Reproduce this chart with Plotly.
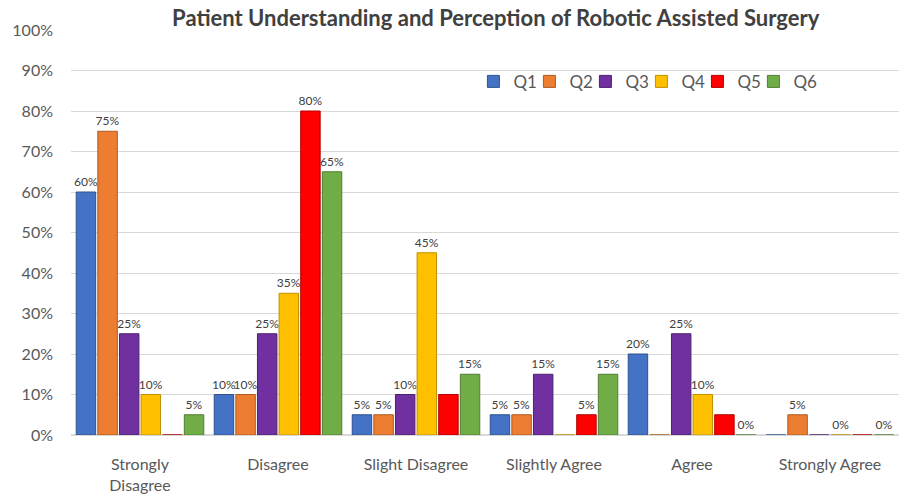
import plotly.graph_objects as go

categories = ["Strongly<br>Disagree", "Disagree", "Slight Disagree", "Slightly Agree", "Agree", "Strongly Agree"]
series_names = ["Q1", "Q2", "Q3", "Q4", "Q5", "Q6"]
q1 = [0.60, 0.10, 0.05, 0.05, 0.20, 0.00]
q2 = [0.75, 0.10, 0.05, 0.05, 0.00, 0.05]
q3 = [0.25, 0.25, 0.10, 0.15, 0.25, 0.00]
q4 = [0.10, 0.35, 0.45, 0.00, 0.10, 0.00]
q5 = [0.00, 0.80, 0.10, 0.05, 0.05, 0.00]
q6 = [0.05, 0.65, 0.15, 0.15, 0.00, 0.00]
labels_q1 = ["60%", "10%", "5%", "5%", "20%", ""]
labels_q2 = ["75%", "10%", "5%", "5%", "", "5%"]
labels_q3 = ["25%", "25%", "10%", "15%", "25%", ""]
labels_q4 = ["10%", "35%", "45%", "", "10%", "0%"]
labels_q5 = ["", "80%", "", "5%", "", ""]
labels_q6 = ["5%", "65%", "15%", "15%", "0%", "0%"]
y_ticks = [0, 0.1, 0.2, 0.3, 0.4, 0.5, 0.6, 0.7, 0.8, 0.9, 1.0]
y_tick_text = ["0%", "10%", "20%", "30%", "40%", "50%", "60%", "70%", "80%", "90%", "100%"]

values = [q1, q2, q3, q4, q5, q6]
labels = [labels_q1, labels_q2, labels_q3, labels_q4, labels_q5, labels_q6]
colors = ["#4472C4", "#ED7D31", "#7030A0", "#FFC000", "#FF0000", "#70AD47"]
edges = ["#2F528F", "#AE5A21", "#4B2070", "#BF9000", "#B00000", "#507E32"]

fig = go.Figure()
for name, vals, txt, col, edge in zip(series_names, values, labels, colors, edges):
    fig.add_trace(go.Bar(
        name=name, x=categories, y=vals, text=txt,
        textposition="outside", cliponaxis=False, constraintext="none",
        textfont=dict(family="Lato, sans-serif", size=12, color="#404040"),
        marker=dict(color=col, line=dict(color=edge, width=1)),
    ))

# invisible spacer legend entry so the last real legend label is not clipped
fig.add_trace(go.Scatter(x=[None], y=[None], name=" ", mode="markers",
                         marker=dict(color="rgba(0,0,0,0)"), hoverinfo="skip"))

fig.update_layout(
    width=918, height=500,
    margin=dict(l=71, r=19, t=30, b=65),
    paper_bgcolor="white", plot_bgcolor="white",
    barmode="group", bargap=0.06, bargroupgap=0.1,
    font=dict(family="Lato, Open Sans, sans-serif", color="#595959"),
    title=dict(text="<b>Patient Understanding and Perception of Robotic Assisted Surgery</b>",
               x=0.540, xanchor="center", y=0.963, yanchor="middle",
               font=dict(size=22, color="#404040")),
    legend=dict(orientation="h", x=0.486, xanchor="left", y=0.872, yanchor="middle",
                font=dict(size=17, color="#595959"), bgcolor="rgba(0,0,0,0)",
                itemwidth=30, entrywidth=11, entrywidthmode="pixels", traceorder="normal"),
    showlegend=True,
)
fig.update_xaxes(showgrid=False, showline=False, zeroline=False, ticks="",
                 tickfont=dict(size=16, color="#595959"), ticklabelstandoff=18,
                 automargin=False)
fig.update_yaxes(range=[0, 1], tickvals=y_ticks, ticktext=y_tick_text,
                 showgrid=True, gridcolor="#D9D9D9", gridwidth=1,
                 zeroline=True, zerolinecolor="#D9D9D9", showline=False,
                 tickfont=dict(size=16, color="#595959"), ticklabelstandoff=17,
                 automargin=False)

fig.write_html("out.html", config={"displayModeBar": False},
               post_script="document.body.style.margin='0';document.body.style.overflow='hidden';")
